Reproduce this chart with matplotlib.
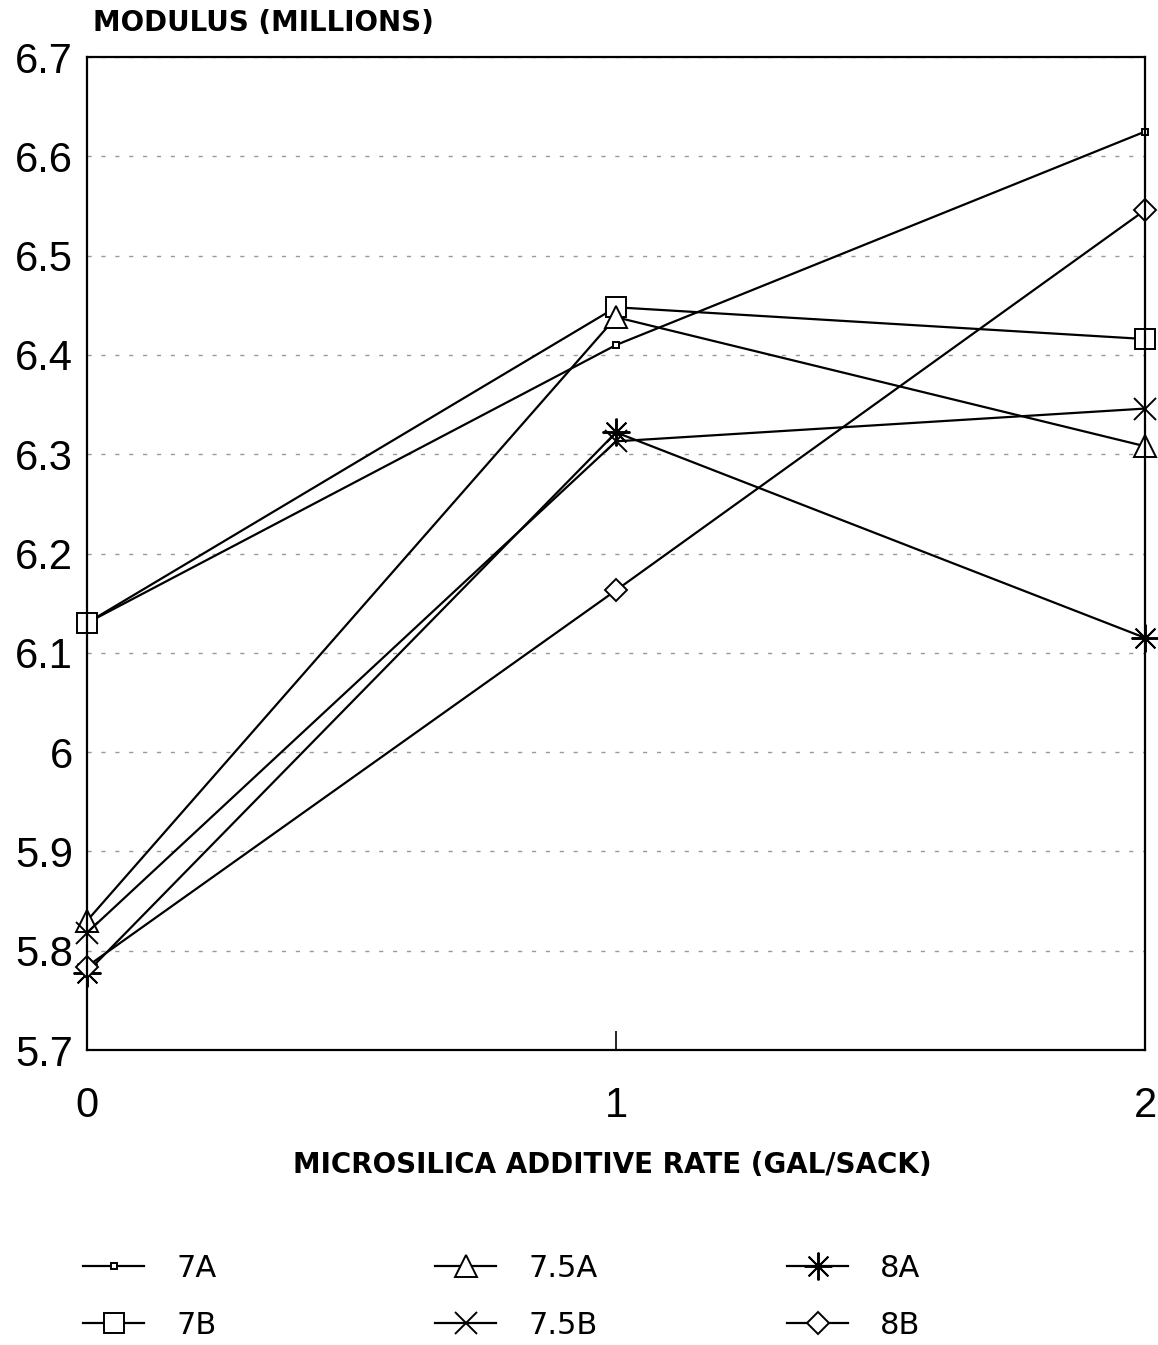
import matplotlib.pyplot as plt
import numpy as np

plt.rcParams['font.family'] = ['Liberation Sans', 'DejaVu Sans']

# Werte (Modulus in Millionen)
rate = [0, 1, 2]
series = ['7A', '7B', '7.5A', '7.5B', '8A', '8B']
v_7a = [6.13, 6.41, 6.625]
v_7b = [6.13, 6.448, 6.416]
v_75a = [5.83, 6.438, 6.308]
v_75b = [5.818, 6.313, 6.346]
v_8a = [5.778, 6.322, 6.115]
v_8b = [5.784, 6.163, 6.546]

values = [v_7a, v_7b, v_75a, v_75b, v_8a, v_8b]
markers = ['s', 's', '^', 'x', (8, 2, 0), 'D']
msizes = [4, 14, 16, 16, 20, 11]

fig = plt.figure(figsize=(11.58, 13.45), dpi=100)
ax = fig.add_axes([0.075, 0.2193, 0.914, 0.7383])

lines = []
for name, v, m, ms in zip(series, values, markers, msizes):
    ln, = ax.plot(rate, v, color='black', lw=1.6, marker=m, markersize=ms,
                  markerfacecolor='white', markeredgecolor='black', markeredgewidth=1.4,
                  label=name, clip_on=False)
    lines.append(ln)

ax.set_xlim(0, 2)
ax.set_ylim(5.7, 6.7)
yt = np.round(np.arange(5.7, 6.71, 0.1), 1)
ax.set_yticks(yt)
ax.set_yticklabels(['6' if abs(t - 6) < 1e-9 else f'{t:.1f}' for t in yt])
ax.set_xticks(rate)
ax.tick_params(axis='y', length=0, labelsize=30, pad=10)
ax.tick_params(axis='x', direction='in', length=14, width=1.2, labelsize=30, pad=26)
ax.grid(axis='y', color='#999999', lw=1.0, linestyle=(0, (3, 7)))
for s in ax.spines.values():
    s.set_linewidth(1.6)

fig.text(0.080, 0.983, 'MODULUS (MILLIONS)', fontsize=20,
         fontweight='bold', ha='left', va='center', family='DejaVu Sans')
fig.text(0.529, 0.134, 'MICROSILICA ADDITIVE RATE (GAL/SACK)',
         fontsize=20, fontweight='bold', ha='center', va='center', family='DejaVu Sans')

# Legende: drei Spalten zu je zwei Eintraegen
for i, x0 in enumerate([0.0717, 0.3756, 0.6796]):
    lg = fig.legend(lines[2 * i:2 * i + 2], series[2 * i:2 * i + 2],
                    loc='lower left', bbox_to_anchor=(x0, 0.004), frameon=False,
                    prop={'family': 'DejaVu Sans', 'size': 22}, handlelength=2.0,
                    labelspacing=0.92, handletextpad=1.05, borderpad=0.0,
                    borderaxespad=0.0)

plt.savefig('out.png', dpi=100)
